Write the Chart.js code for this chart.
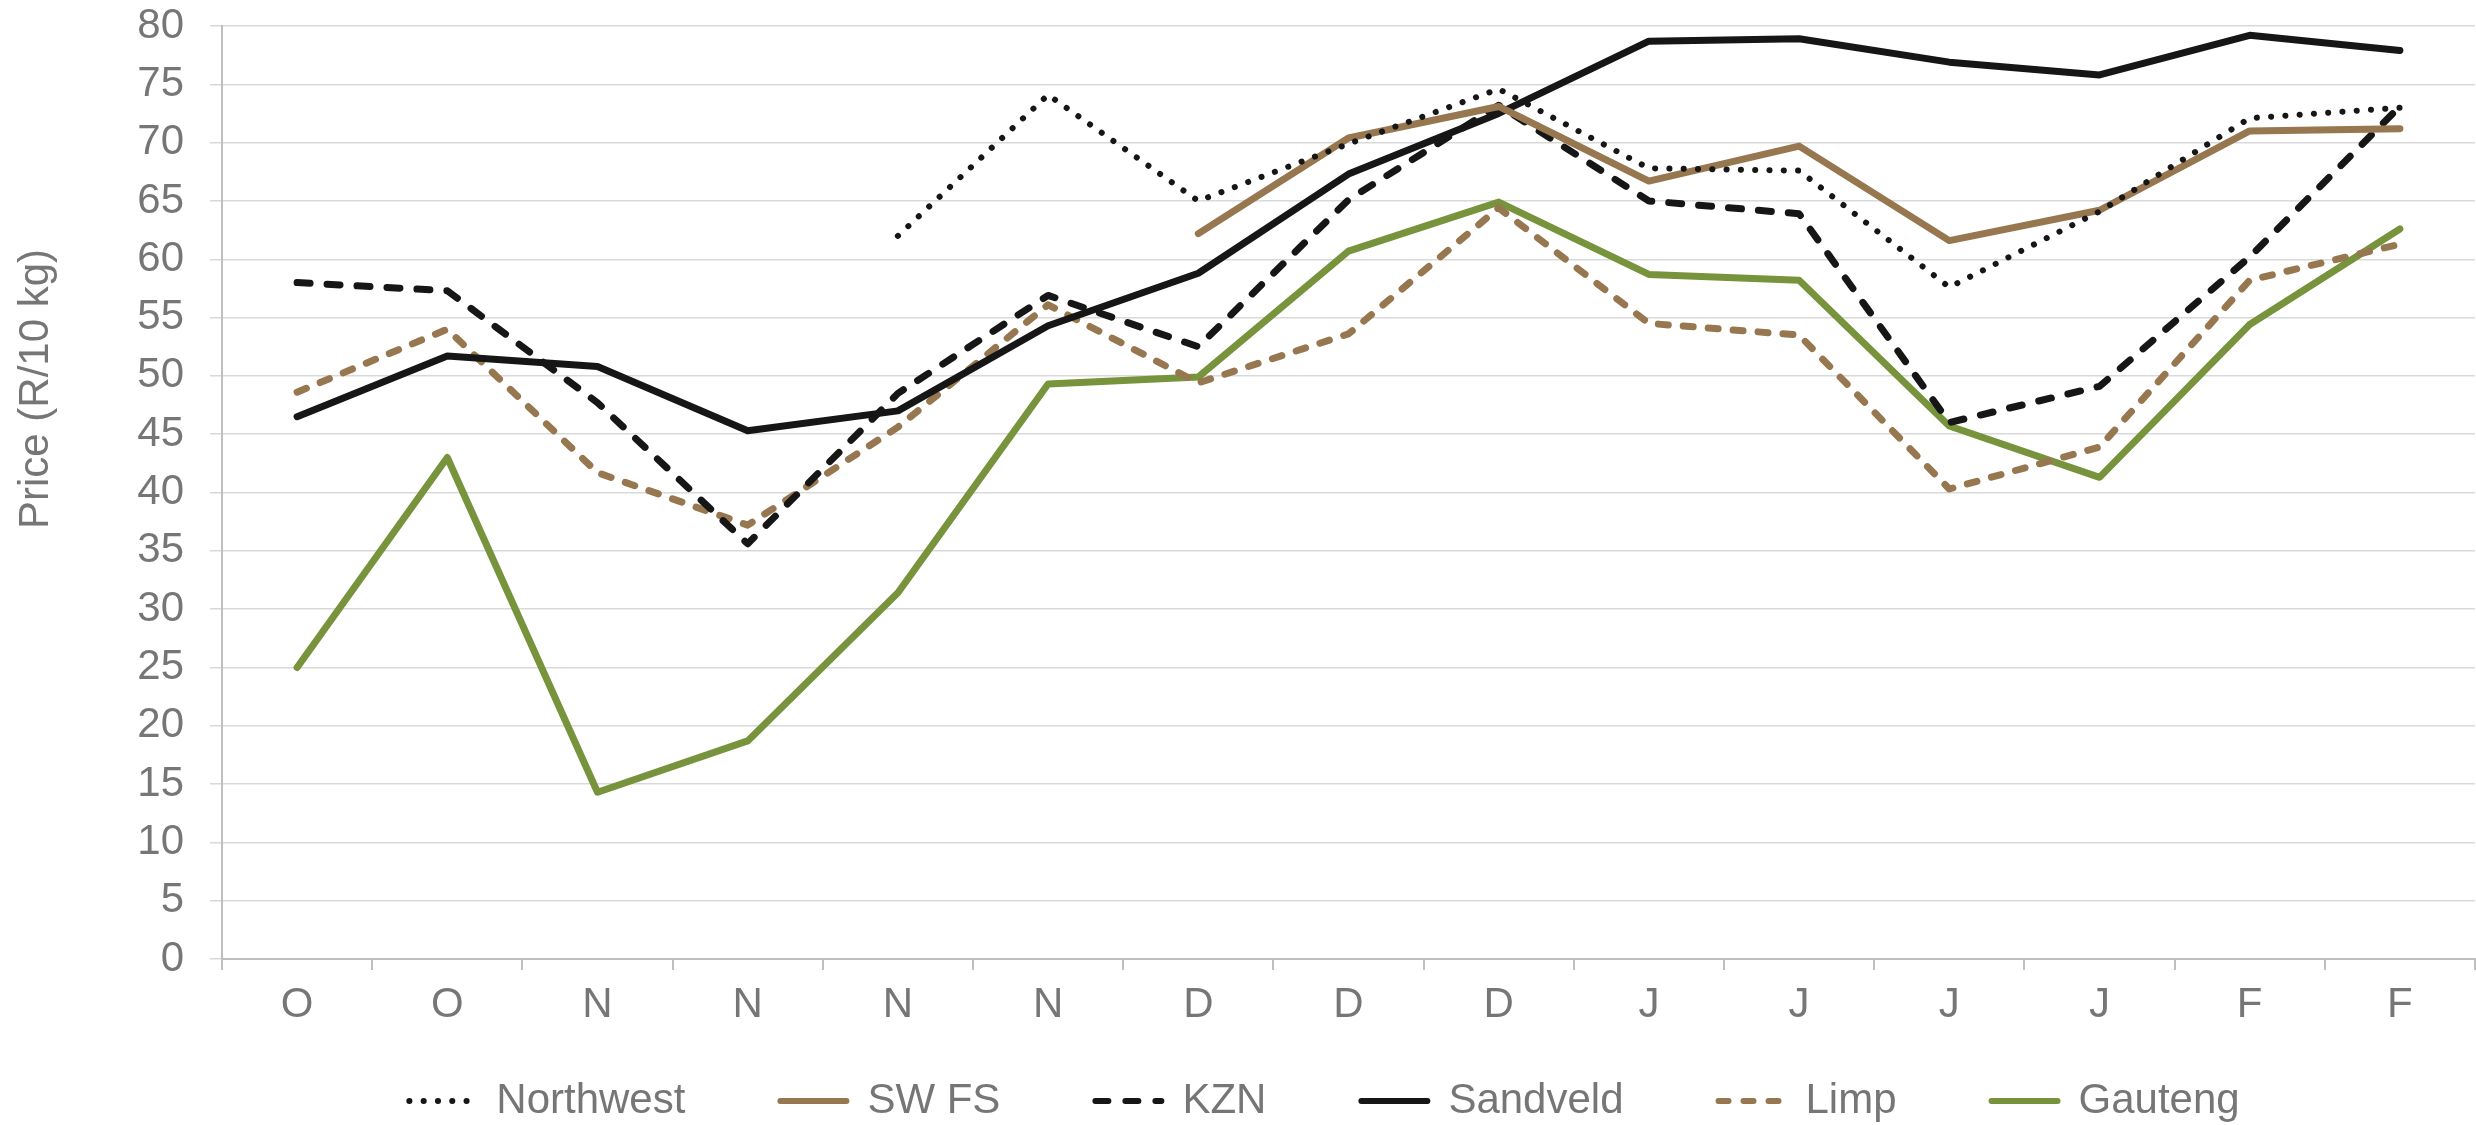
<!DOCTYPE html>
<html>
<head>
<meta charset="utf-8">
<title>Price (R/10 kg)</title>
<script src="https://cdn.jsdelivr.net/npm/chart.js@4.4.1/dist/chart.umd.min.js"></script>
<style>
  html, body { margin: 0; padding: 0; background: #fff; }
  #wrap { width: 2476px; height: 1125px; }
</style>
</head>
<body>
<div id="wrap"><canvas id="priceChart" width="2476" height="1125"></canvas></div>
<script>
// categories (month initials, weekly points)
const weeks = ["O", "O", "N", "N", "N", "N", "D", "D", "D", "J", "J", "J", "J", "F", "F"];

// prices per region, R/10 kg
const northwest = [null, null, null, null, 62.0, 74.1, 65.0, 69.9, 74.6, 67.8, 67.6, 57.6, 64.1, 72.1, 73.0];
const swFs      = [null, null, null, null, null, null, 62.2, 70.4, 73.1, 66.7, 69.7, 61.6, 64.2, 71.0, 71.2];
const kzn       = [58.0, 57.3, 47.7, 35.6, 48.5, 56.9, 52.5, 65.1, 73.2, 65.0, 63.9, 46.0, 49.1, 60.2, 73.1];
const sandveld  = [46.5, 51.7, 50.8, 45.3, 47.0, 54.3, 58.8, 67.3, 72.5, 78.7, 78.9, 76.9, 75.8, 79.2, 77.9];
const limp      = [48.6, 54.0, 41.7, 37.2, 45.6, 56.1, 49.4, 53.6, 64.4, 54.5, 53.5, 40.3, 43.9, 58.2, 61.3];
const gauteng   = [25.0, 43.0, 14.3, 18.7, 31.4, 49.3, 49.9, 60.7, 64.9, 58.7, 58.2, 45.7, 41.3, 54.4, 62.6];

// y axis
const yMin = 0, yMax = 80, yStep = 5;

const black = '#161616';
const brown = '#97774f';
const green = '#77933c';
const textGrey = '#767676';

Chart.defaults.font.family = "'Liberation Sans', Arial, sans-serif";
Chart.defaults.font.size = 42;
Chart.defaults.color = textGrey;

function serie(label, data, color, dash, width) {
    return {
        label: label,
        data: data,
        borderColor: color,
        backgroundColor: color,
        borderWidth: width,
        borderDash: dash,
        borderCapStyle: 'round',
        borderJoinStyle: 'round',
        pointRadius: 0,
        tension: 0,
        fill: false
    };
}

// axis title sits a bit above the middle, like the original
const yTitle = {
    id: 'yTitle',
    afterDraw(chart) {
        const c = chart.ctx;
        c.save();
        c.translate(36, 389);
        c.rotate(-Math.PI / 2);
        c.font = "42px 'Liberation Sans', Arial, sans-serif";
        c.fillStyle = textGrey;
        c.textAlign = 'center';
        c.textBaseline = 'middle';
        c.fillText('Price (R/10 kg)', 0, 0);
        c.restore();
    }
};

// move the legend row to where the original has it
const legendPlace = {
    id: 'legendPlace',
    afterLayout(chart) {
        const lg = chart.legend;
        lg.top = 985;
        lg.left += 87;
        lg.right += 87;
    }
};

const ctx = document.getElementById('priceChart').getContext('2d');
const priceChart = new Chart(ctx, {
    type: 'line',
    data: {
        labels: weeks,
        datasets: [
            serie('Northwest', northwest, black, [0.1, 14.2], 6),
            serie('SW FS', swFs, brown, [], 7),
            serie('KZN', kzn, black, [13, 17], 7),
            serie('Sandveld', sandveld, black, [], 7),
            serie('Limp', limp, brown, [10, 15], 7),
            serie('Gauteng', gauteng, green, [], 7)
        ]
    },
    options: {
        responsive: false,
        devicePixelRatio: 1,
        animation: false,
        layout: { padding: { top: 26, left: 0, right: 1, bottom: 0 } },
        plugins: {
            tooltip: { enabled: false },
            legend: {
                position: 'bottom',
                maxHeight: 90,
                labels: {
                    usePointStyle: true,
                    pointStyle: 'line',
                    pointStyleWidth: 66,
                    boxHeight: 42,
                    padding: 95,
                    color: textGrey,
                    font: { size: 42 },
                    generateLabels(chart) {
                        const items = Chart.defaults.plugins.legend.labels.generateLabels(chart);
                        items.forEach(it => {
                            const ds = chart.data.datasets[it.datasetIndex];
                            it.strokeStyle = ds.borderColor;
                            it.lineWidth = Math.min(ds.borderWidth, 6);
                            it.lineDash = ds.borderDash;
                            it.lineCap = 'round';
                        });
                        return items;
                    }
                }
            }
        },
        scales: {
            x: {
                offset: true,
                grid: {
                    offset: true,
                    drawOnChartArea: false,
                    drawTicks: true,
                    tickLength: 11,
                    color: '#bfbfbf',
                    lineWidth: 2
                },
                border: { color: '#bfbfbf', width: 2 },
                ticks: { padding: 10, color: textGrey, maxRotation: 0, autoSkip: false },
                afterFit(scale) { scale.height = 76; }
            },
            y: {
                min: yMin,
                max: yMax,
                ticks: { stepSize: yStep, padding: 26, color: textGrey },
                grid: { color: '#d9d9d9', lineWidth: 1.5, tickLength: 12, drawTicks: true },
                border: { color: '#bfbfbf', width: 2 },
                afterFit(scale) {
                    scale.width = 222;
                    scale.paddingTop = 0;
                    scale.paddingBottom = 0;
                }
            }
        }
    },
    plugins: [yTitle, legendPlace]
});
</script>
</body>
</html>
